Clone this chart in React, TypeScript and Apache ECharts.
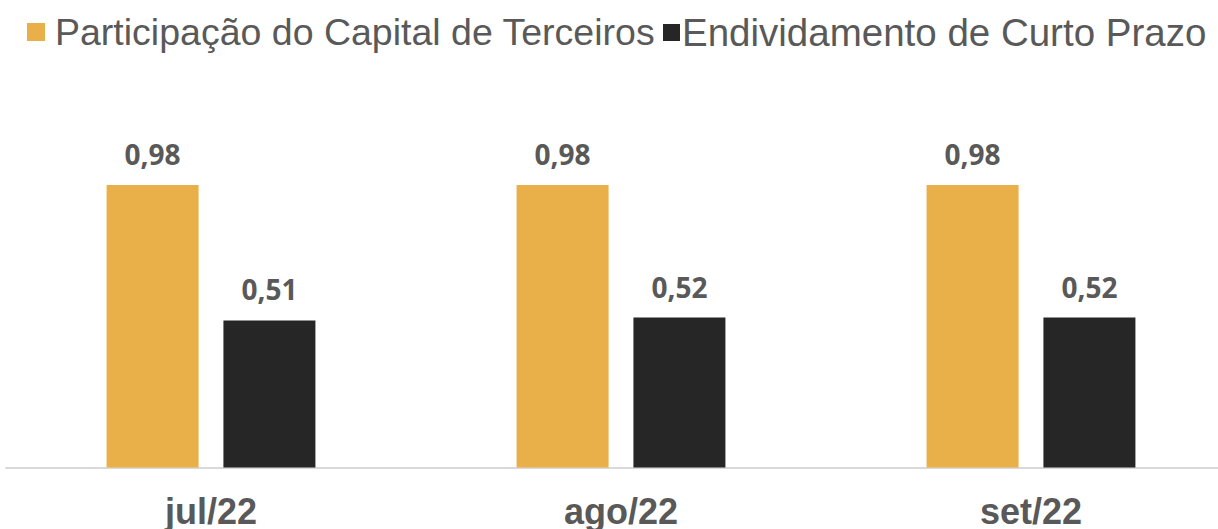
import React, { useEffect, useRef } from "react";
import * as echarts from "echarts";

const categories = ["jul/22", "ago/22", "set/22"];
const participacao = [0.98, 0.98, 0.98];
const endividamento = [0.51, 0.52, 0.52];
const seriesNames = ["Participação do Capital de Terceiros", "Endividamento de Curto Prazo"];

export default function App() {
  const ref = useRef<HTMLDivElement>(null);
  useEffect(() => {
    document.body.style.margin = "0";
    const chart = echarts.init(ref.current!, undefined, { renderer: "svg" });
    const fmt = (p: any) => Number(p.value).toFixed(2).replace(".", ",");
    const labelStyle = {
      show: true,
      position: "top" as const,
      distance: 17,
      formatter: fmt,
      fontFamily: "Open Sans",
      fontWeight: "bold" as const,
      fontSize: 28,
      color: "#595959",
    };
    chart.setOption({
      animation: false,
      color: ["#E9AF48", "#262626"],
      legend: [
        {
          data: [seriesNames[0]],
          left: 27,
          top: 13,
          padding: 0,
          icon: "rect",
          itemWidth: 18,
          itemHeight: 18,
          textStyle: { fontFamily: "Liberation Sans", fontSize: 37.5, color: "#595959", padding: [0, 0, 0, 5] },
        },
        {
          data: [seriesNames[1]],
          left: 663,
          top: 13,
          padding: 0,
          icon: "rect",
          itemWidth: 17,
          itemHeight: 17,
          textStyle: { fontFamily: "Liberation Sans", fontSize: 38.5, color: "#595959", padding: [0, 0, 0, -3] },
        },
      ],
      grid: { left: 6, width: 1230, top: 121.5, bottom: 61.5, containLabel: false, outerBoundsMode: "none" },
      xAxis: {
        type: "category",
        data: categories,
        axisLine: { lineStyle: { color: "#D9D9D9", width: 2 } },
        axisTick: { show: false },
        axisLabel: {
          margin: 26,
          fontFamily: "Liberation Sans",
          fontWeight: "bold",
          fontSize: 36,
          color: "#595959",
        },
      },
      yAxis: {
        type: "value",
        min: 0,
        max: 1.2,
        show: false,
        splitLine: { show: false },
      },
      series: [
        {
          name: seriesNames[0],
          type: "bar",
          data: participacao,
          barWidth: 92,
          barGap: "27%",
          label: labelStyle,
        },
        {
          name: seriesNames[1],
          type: "bar",
          data: endividamento,
          barWidth: 92,
          barGap: "27%",
          label: labelStyle,
        },
      ],
    });
    return () => chart.dispose();
  }, []);
  return <div ref={ref} style={{ width: 1218, height: 529 }} />;
}
